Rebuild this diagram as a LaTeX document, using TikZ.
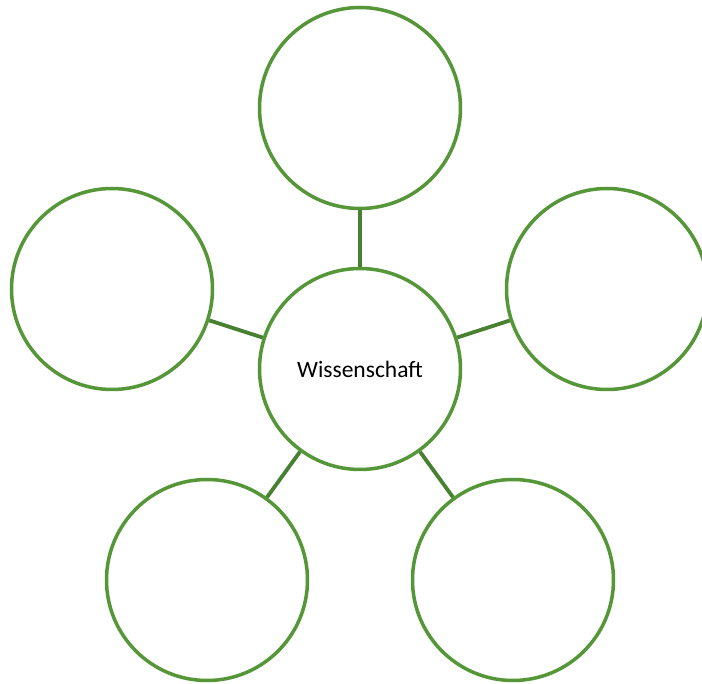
\documentclass[tikz,border=0pt]{standalone}
\usepackage{fontspec}
\setmainfont{Carlito}
\usepackage{xcolor}
\usepackage{tikz}
\usetikzlibrary{positioning}
\definecolor{leafgreen}{RGB}{84,150,56}

\begin{document}
\begin{tikzpicture}[
  x=1pt,y=-1pt,
  bubble/.style={draw=leafgreen,circle,line width=3.5pt,minimum size=201pt,
                 inner sep=0pt,fill=white,font=\fontsize{23.5}{28}\selectfont},
  spoke/.style={draw=leafgreen!85!black,line width=3.8pt}
]
\clip (0,0) rectangle (702,684);
\node[bubble] (hub) at (360,369) {Wissenschaft};
\node[bubble] (science-top) at (360,108) {};
\node[bubble] (science-left) at (112,289) {};
\node[bubble] (science-right) at (607,289) {};
\node[bubble] (science-botleft) at (207,580) {};
\node[bubble] (science-botright) at (513,580) {};
\draw[spoke] (hub) -- (science-top);
\draw[spoke] (hub) -- (science-left);
\draw[spoke] (hub) -- (science-right);
\draw[spoke] (hub) -- (science-botleft);
\draw[spoke] (hub) -- (science-botright);
\end{tikzpicture}
\end{document}
